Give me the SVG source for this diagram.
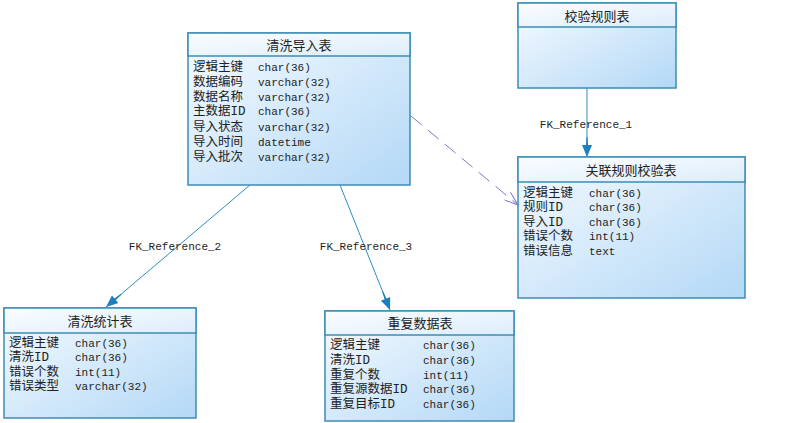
<svg xmlns="http://www.w3.org/2000/svg" width="804" height="423" viewBox="0 0 804 423">
<defs>
<linearGradient id="g" x1="0" y1="0" x2="1" y2="1">
<stop offset="0" stop-color="#f6fbff"/>
<stop offset="1" stop-color="#b3d8f6"/>
</linearGradient>
<linearGradient id="h" x1="0" y1="0" x2="1" y2="1">
<stop offset="0" stop-color="#fbfdff"/>
<stop offset="1" stop-color="#dcedfb"/>
</linearGradient>
<marker id="fa" viewBox="0 0 20 10" refX="20" refY="5" markerWidth="20" markerHeight="10" markerUnits="userSpaceOnUse" orient="auto">
<path d="M0,4.5 L8,4 L8,0 L20,5 L8,10 L8,6 L0,5.5 Z" fill="#1b7fc0"/>
</marker>
<marker id="oa" viewBox="0 0 14 10" refX="14" refY="5" markerWidth="14" markerHeight="10" markerUnits="userSpaceOnUse" orient="auto">
<path d="M0,0 L14,5 L0,10" fill="none" stroke="#7a78d8" stroke-width="1"/>
</marker>
</defs>
<style>
.box{fill:url(#g);stroke:#3d8db5;stroke-width:1.5}
.hd{fill:url(#h);stroke:#3d8db5;stroke-width:1.5}
.t{font-family:"Noto Sans CJK SC","Liberation Sans",sans-serif;font-size:13px;fill:#222;text-anchor:middle}
.n{font-family:"Liberation Mono","Noto Sans CJK SC",monospace;font-size:12.5px;fill:#222}
.ty{font-family:"Liberation Mono",monospace;font-size:11px;fill:#222}
.lb{font-family:"Liberation Mono",monospace;font-size:11px;fill:#222}
.c{stroke:#2e8cc4;stroke-width:1;fill:none}
</style>
<rect width="804" height="423" fill="#ffffff"/>
<g id="connectors">
<line class="c" x1="587" y1="88" x2="587" y2="157" marker-end="url(#fa)"/>
<line class="c" x1="250" y1="185" x2="106" y2="307" marker-end="url(#fa)"/>
<line class="c" x1="340" y1="185" x2="390" y2="310" marker-end="url(#fa)"/>
<line x1="411" y1="116" x2="518" y2="205" stroke="#7a78d8" stroke-width="1" stroke-dasharray="14,8" marker-end="url(#oa)"/>
<text class="lb" x="586" y="128" text-anchor="middle">FK_Reference_1</text>
<text class="lb" x="175" y="250" text-anchor="middle">FK_Reference_2</text>
<text class="lb" x="366" y="250" text-anchor="middle">FK_Reference_3</text>
</g>
<g id="qingxi_daoru">
<rect class="box" x="188" y="33" width="222" height="152"/>
<rect class="hd" x="188" y="33" width="222" height="23"/>
<text class="t" x="299" y="50">清洗导入表</text>
<text class="n" x="193" y="71">逻辑主键</text><text class="ty" x="258" y="71">char(36)</text>
<text class="n" x="193" y="86">数据编码</text><text class="ty" x="258" y="86">varchar(32)</text>
<text class="n" x="193" y="101">数据名称</text><text class="ty" x="258" y="101">varchar(32)</text>
<text class="n" x="193" y="115">主数据ID</text><text class="ty" x="258" y="115">char(36)</text>
<text class="n" x="193" y="131">导入状态</text><text class="ty" x="258" y="131">varchar(32)</text>
<text class="n" x="193" y="146">导入时间</text><text class="ty" x="258" y="146">datetime</text>
<text class="n" x="193" y="161">导入批次</text><text class="ty" x="258" y="161">varchar(32)</text>
</g>
<g id="jiaoyan_guize">
<rect class="box" x="518" y="3" width="158" height="85"/>
<rect class="hd" x="518" y="3" width="158" height="24"/>
<text class="t" x="597" y="21">校验规则表</text>
</g>
<g id="guanlian_guize_jiaoyan">
<rect class="box" x="518" y="157" width="227" height="141"/>
<rect class="hd" x="518" y="157" width="227" height="25"/>
<text class="t" x="631" y="175">关联规则校验表</text>
<text class="n" x="523" y="197">逻辑主键</text><text class="ty" x="589" y="197">char(36)</text>
<text class="n" x="523" y="211">规则ID</text><text class="ty" x="589" y="211">char(36)</text>
<text class="n" x="523" y="226">导入ID</text><text class="ty" x="589" y="226">char(36)</text>
<text class="n" x="523" y="240">错误个数</text><text class="ty" x="589" y="240">int(11)</text>
<text class="n" x="523" y="255">错误信息</text><text class="ty" x="589" y="255">text</text>
</g>
<g id="qingxi_tongji">
<rect class="box" x="4" y="308" width="192" height="110"/>
<rect class="hd" x="4" y="308" width="192" height="25"/>
<text class="t" x="100" y="326">清洗统计表</text>
<text class="n" x="9" y="347">逻辑主键</text><text class="ty" x="75" y="347">char(36)</text>
<text class="n" x="9" y="361">清洗ID</text><text class="ty" x="75" y="361">char(36)</text>
<text class="n" x="9" y="376">错误个数</text><text class="ty" x="75" y="376">int(11)</text>
<text class="n" x="9" y="390">错误类型</text><text class="ty" x="75" y="390">varchar(32)</text>
</g>
<g id="chongfu_shuju">
<rect class="box" x="325" y="311" width="189" height="110"/>
<rect class="hd" x="325" y="311" width="189" height="24"/>
<text class="t" x="420" y="328">重复数据表</text>
<text class="n" x="330" y="349">逻辑主键</text><text class="ty" x="423" y="349">char(36)</text>
<text class="n" x="330" y="364">清洗ID</text><text class="ty" x="423" y="364">char(36)</text>
<text class="n" x="330" y="379">重复个数</text><text class="ty" x="423" y="379">int(11)</text>
<text class="n" x="330" y="393">重复源数据ID</text><text class="ty" x="423" y="393">char(36)</text>
<text class="n" x="330" y="408">重复目标ID</text><text class="ty" x="423" y="408">char(36)</text>
</g>
</svg>
